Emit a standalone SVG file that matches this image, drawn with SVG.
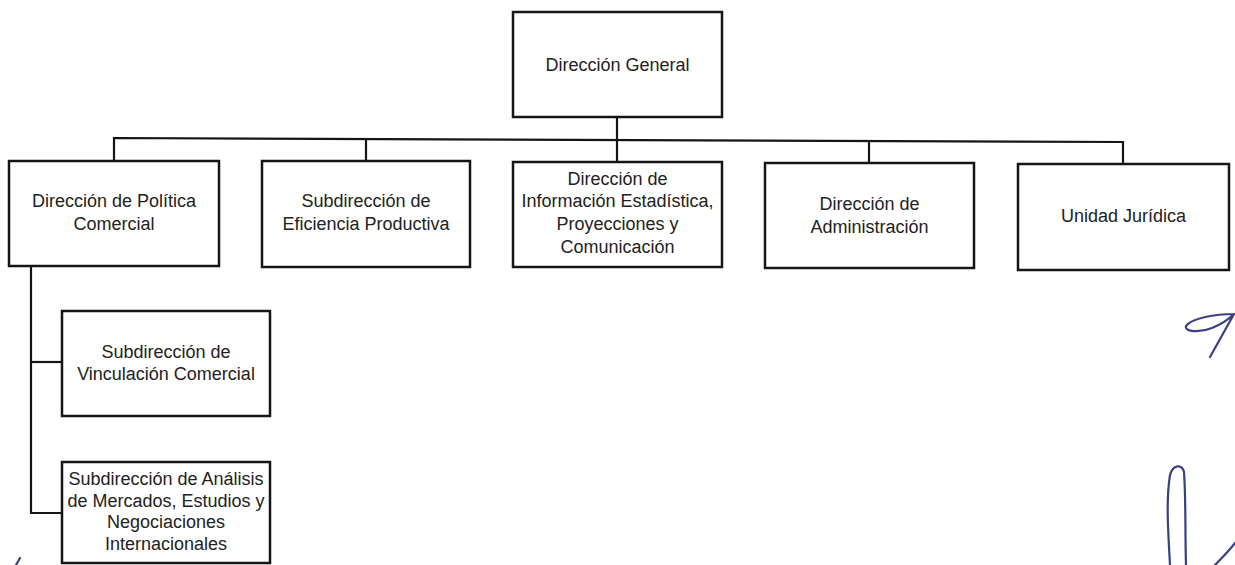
<svg xmlns="http://www.w3.org/2000/svg" width="1235" height="565" viewBox="0 0 1235 565">
<style>
.box{fill:#fff;stroke:#151515;stroke-width:2.5}
.ln{fill:none;stroke:#151515;stroke-width:2.2}
.t{font-family:"Liberation Sans",Arial,sans-serif;font-size:18px;fill:#222;text-anchor:middle}
.sig{fill:none;stroke:#3a3f86;stroke-width:2.2;stroke-linecap:round;stroke-linejoin:round}
</style>
<rect width="1235" height="565" fill="#fff"/>
<g id="connectors">
<path class="ln" d="M617,117 V139"/>
<path class="ln" d="M114,161 V138 L1123,142 V164"/>
<path class="ln" d="M366,161 V139"/>
<path class="ln" d="M617,162 V140"/>
<path class="ln" d="M869,163 V141"/>
<path class="ln" d="M31,266 V513 H62"/>
<path class="ln" d="M31,362 H62"/>
</g>
<g id="n-direccion-general">
<rect class="box" x="513" y="12" width="209" height="105"/>
<text class="t" x="617.5" y="71">Dirección General</text>
</g>
<g id="n-politica-comercial">
<rect class="box" x="9" y="161" width="210" height="105"/>
<text class="t" x="114" y="207">Dirección de Política</text>
<text class="t" x="114" y="230">Comercial</text>
</g>
<g id="n-eficiencia-productiva">
<rect class="box" x="262" y="161" width="208" height="106"/>
<text class="t" x="366" y="207">Subdirección de</text>
<text class="t" x="366" y="230">Eficiencia Productiva</text>
</g>
<g id="n-informacion-estadistica">
<rect class="box" x="513" y="162" width="209" height="105"/>
<text class="t" x="617.5" y="185">Dirección de</text>
<text class="t" x="617.5" y="207">Información Estadística,</text>
<text class="t" x="617.5" y="230">Proyecciones y</text>
<text class="t" x="617.5" y="253">Comunicación</text>
</g>
<g id="n-administracion">
<rect class="box" x="765" y="163" width="209" height="105"/>
<text class="t" x="869.5" y="210">Dirección de</text>
<text class="t" x="869.5" y="233">Administración</text>
</g>
<g id="n-unidad-juridica">
<rect class="box" x="1018" y="164" width="211" height="106"/>
<text class="t" x="1123.5" y="222">Unidad Jurídica</text>
</g>
<g id="n-vinculacion-comercial">
<rect class="box" x="62" y="311" width="208" height="105"/>
<text class="t" x="166" y="358">Subdirección de</text>
<text class="t" x="166" y="380">Vinculación Comercial</text>
</g>
<g id="n-analisis-mercados">
<rect class="box" x="62" y="462" width="208" height="101"/>
<text class="t" x="166" y="485">Subdirección de Análisis</text>
<text class="t" x="166" y="507">de Mercados, Estudios y</text>
<text class="t" x="166" y="528">Negociaciones</text>
<text class="t" x="166" y="550">Internacionales</text>
</g>
<g id="handwriting">
<path class="sig" d="M1234,314 C1215,314 1192,318 1186,326 C1184,332 1200,333 1212,328 C1222,324 1230,318 1234,314 L1210,357"/>
<path class="sig" d="M1170,565 C1168,530 1166,500 1170,475 C1173,464 1182,464 1184,472 C1186,500 1185,535 1186,565"/>
<path class="sig" d="M1215,565 C1222,558 1230,550 1235,543"/>
<path class="sig" d="M20,558 L16,565"/>
</g>
</svg>
